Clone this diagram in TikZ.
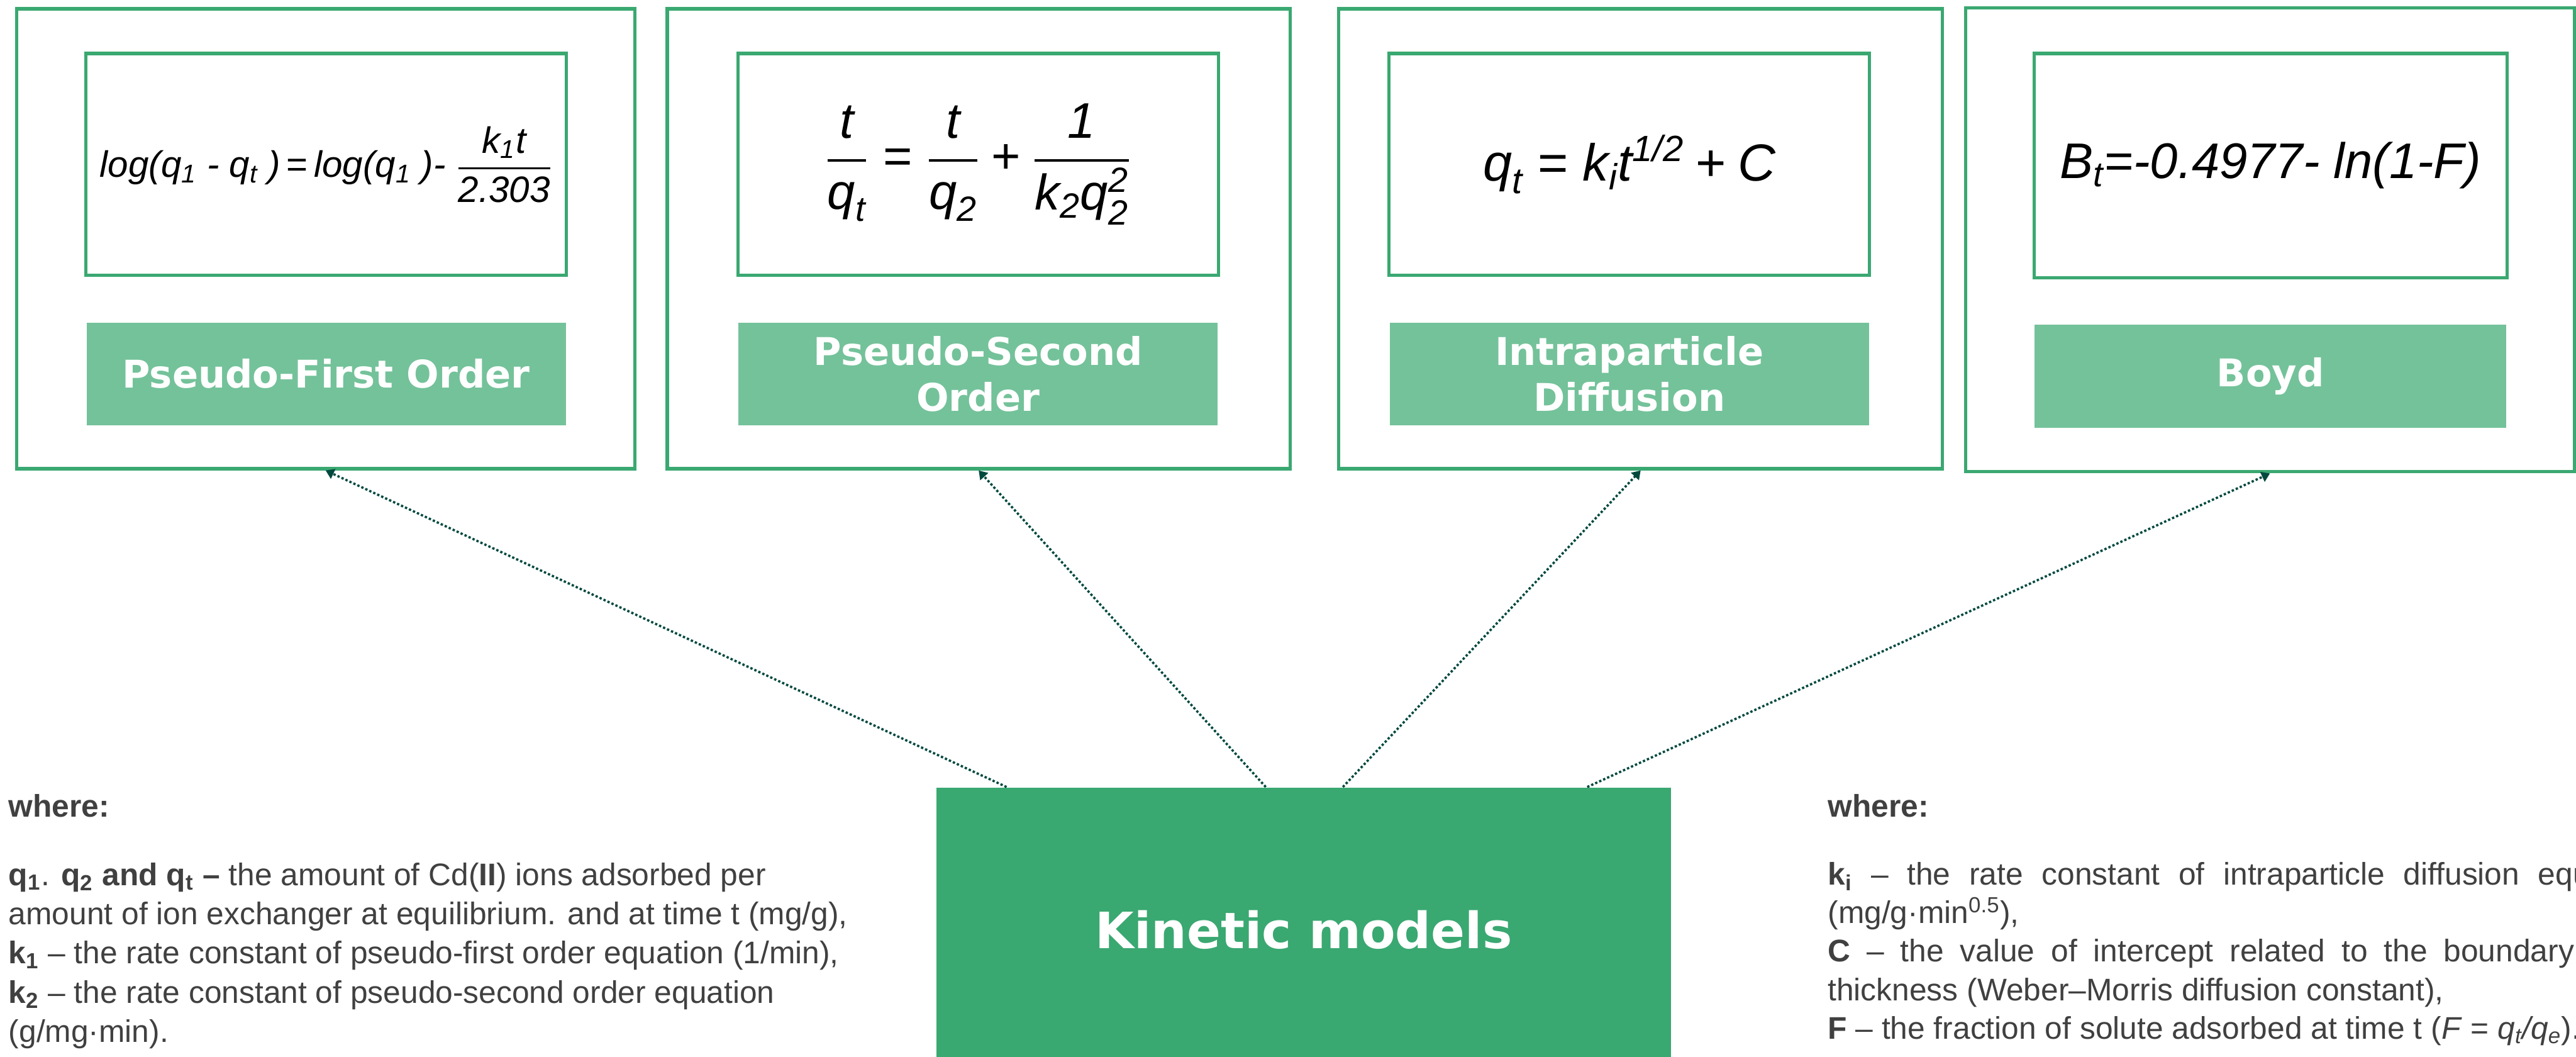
\documentclass[tikz,border=0pt]{standalone}
\usepackage{fontspec}
\usepackage{amsmath}
\setmainfont{Liberation Sans}
\newfontfamily\boxfont{DejaVu Sans}
\usetikzlibrary{arrows.meta, positioning}

\definecolor{kmgreen}{RGB}{58,168,113}
\definecolor{kmlight}{RGB}{116,194,154}
\definecolor{kmdark}{RGB}{0,72,62}
\definecolor{kmgray}{RGB}{64,64,64}

\newcommand{\tx}[1]{\text{#1}}

\begin{document}
\begin{tikzpicture}[
	model/.style={rectangle, draw=kmgreen, line width=1.6pt, minimum width=10.4cm, minimum height=7.75cm, inner sep=0pt},
	eqbox/.style={rectangle, draw=kmgreen, line width=1.6pt, minimum width=8.1cm, minimum height=3.74cm, inner sep=0pt},
	tag/.style={rectangle, fill=kmlight, text=white, minimum width=8.08cm, minimum height=1.73cm, align=center, font=\boxfont\bfseries\fontsize{18.3}{22}\selectfont},
	conn/.style={kmdark, line width=1.1pt, dash pattern=on 1.1pt off 1pt, -{Triangle[length=4pt, width=5pt]}},
	note/.style={text=kmgray, inner sep=0pt, anchor=north west, font=\fontsize{15}{18.8}\selectfont},
]
	\useasboundingbox (0,0) rectangle (43.43,-17.81);

	% Outer frames (top row)
	\node[model, minimum width=10.42cm] (pfo) at (5.49,-4.025) {};
	\node[model, minimum width=10.50cm] (pso) at (16.50,-4.025) {};
	\node[model, minimum width=10.18cm] (ipd) at (27.66,-4.025) {};
	\node[model, minimum width=10.26cm, minimum height=7.82cm] (boyd) at (38.27,-4.04) {};

	% Equations
	\node[eqbox, font=\itshape\fontsize{17.6}{21}\selectfont] (pfoeq) at (5.50,-2.77) {log(q\textsubscript{1} - q\textsubscript{t} )\,\textup{=}\,log(q\textsubscript{1} )- $\dfrac{\tx{k}_{\tx{1}}\tx{t}}{\tx{2.303}}$};
	\node[eqbox, font=\itshape\fontsize{24}{28}\selectfont] (psoeq) at (16.49,-2.77) {$\dfrac{\tx{t}}{\tx{q}_{\tx{t}}} \mathrel{\tx{\upshape =}} \dfrac{\tx{t}}{\tx{q}_{\tx{2}}} \mathbin{\tx{\upshape +}} \dfrac{\tx{1}}{\tx{k}_{\tx{2}}\tx{q}_{\tx{2}}^{\tx{2}}}$};
	\node[eqbox, font=\itshape\fontsize{25}{30}\selectfont] (ipdeq) at (27.47,-2.77) {$\tx{q}_{\tx{t}} \mathrel{\tx{\upshape =}} \tx{k}_{\tx{i}}\tx{t}^{\tx{1/2}} \mathbin{\tx{\upshape +}} \tx{C}$};
	\node[eqbox, minimum width=7.97cm, minimum height=3.78cm, font=\itshape\fontsize{24}{28}\selectfont] (boydeq) at (38.28,-2.79) {B\textsubscript{t}=-0.4977- ln(1-F)};

	% Model names
	\node[tag, below=0.76cm of pfoeq] (pfotag) {Pseudo-First Order};
	\node[tag, below=0.76cm of psoeq] (psotag) {Pseudo-Second\\Order};
	\node[tag, below=0.76cm of ipdeq] (ipdtag) {Intraparticle\\Diffusion};
	\node[tag, minimum width=7.95cm, below=0.76cm of boydeq] (boydtag) {Boyd};

	% Kinetic models (bottom, runs off the page)
	\node[rectangle, fill=kmgreen, text=white, minimum width=12.38cm, minimum height=4.8cm, font=\boxfont\bfseries\fontsize{24}{29}\selectfont] (km) at (21.98,-15.67) {Kinetic models};

	% Links to the models
	\draw[conn] ([xshift=-5.01cm]km.north) -- (pfo.south);
	\draw[conn] ([xshift=-0.64cm]km.north) -- (pso.south);
	\draw[conn] ([xshift=0.66cm]km.north) -- (ipd.south);
	\draw[conn] ([xshift=4.78cm]km.north) -- (boyd.south);

	% Symbols, left
	\node[note, align=left] (whereleft) at (0.14,-13.38) {
		\textbf{where:}\\[14pt]
		\textbf{q\textsubscript{1}}. \textbf{q\textsubscript{2} and q\textsubscript{t} –} the amount of Cd(\textbf{II}) ions adsorbed per\\
		amount of ion exchanger at equilibrium. and at time t (mg/g),\\
		\textbf{k\textsubscript{1}} – the rate constant of pseudo-first order equation (1/min),\\
		\textbf{k\textsubscript{2}} – the rate constant of pseudo-second order equation\\
		(g/mg·min).
	};

	% Symbols, right
	\node[note, text width=14cm, align=justify, font=\fontsize{15}{18.5}\selectfont] (whereright) at (30.81,-13.38) {
		\textbf{where:}\\[14pt]
		\textbf{k\textsubscript{i}} – the rate constant of intraparticle diffusion equation\linebreak (mg/g·min\textsuperscript{0.5}),\\
		\textbf{C} – the value of intercept related to the boundary layer\linebreak thickness (Weber–Morris diffusion constant),\\
		\textbf{F} – the fraction of solute adsorbed at time t (\textit{F} = \textit{q\textsubscript{t}/q\textsubscript{e}}).
	};

\end{tikzpicture}
\end{document}
